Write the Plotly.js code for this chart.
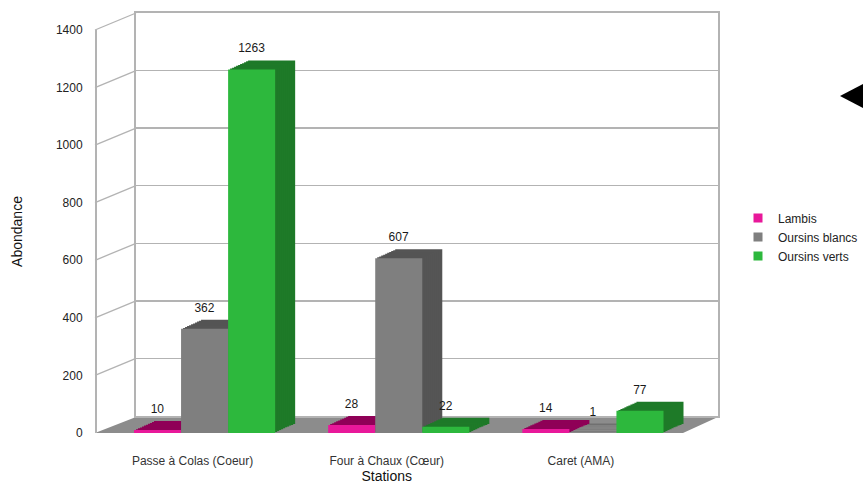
<!DOCTYPE html>
<html>
<head>
<meta charset="utf-8">
<script src="https://cdn.plot.ly/plotly-3.0.1.min.js"></script>
<style>html,body{margin:0;padding:0;background:#fff;}#chart{width:866px;height:484px;}</style>
</head>
<body>
<div id="chart"></div>
<script>
// ---- data ----
const stations = ["Passe à Colas (Coeur)", "Four à Chaux (Cœur)", "Caret (AMA)"];
const seriesNames = ["Lambis", "Oursins blancs", "Oursins verts"];
const lambis = [10, 28, 14];
const oursinsBlancs = [362, 607, 1];
const oursinsVerts = [1263, 22, 77];
const yTicks = [0, 200, 400, 600, 800, 1000, 1200, 1400];

// ---- styling ----
const W = 866, H = 484;
const frontColors = ["#e8189a", "#7f7f7f", "#2db83d"];
const sideColors = ["#8f0057", "#555555", "#1e7a28"];
const FONT = "Liberation Sans, Arial, sans-serif";
const px = x => x / W;
const py = y => 1 - y / H;

// front plane (pixel box)
const front = {x0: 107.5, x1: 690, y0: 30, y1: 433};
const depth = {dx: 20, dy: 9, steps: 10};     // bar depth offset
const wall = {x0: 136, x1: 718, y0: 13, y1: 416};
const yMax = 1400;

const values = [lambis, oursinsBlancs, oursinsVerts];
const traces = [];
const hidden = {visible: false};
const layout = {};

// back wall (grid) subplot
traces.push({type: "scatter", x: [0], y: [0], mode: "none", xaxis: "x", yaxis: "y",
  showlegend: false, hoverinfo: "skip"});

// side / top faces: stacked depth layers (far to near)
let axn = 2;
for (let k = depth.steps; k >= 1; k--) {
  const ox = depth.dx * k / depth.steps, oy = depth.dy * k / depth.steps;
  const id = axn++;
  values.forEach((v, i) => traces.push({
    type: "bar", x: stations, y: v, xaxis: "x" + id, yaxis: "y" + id,
    marker: {color: sideColors[i], line: {width: 0}}, showlegend: false, hoverinfo: "skip"
  }));
  layout["xaxis" + id] = Object.assign({domain: [px(front.x0 + ox), px(front.x1 + ox)], anchor: "y" + id,
    type: "category", range: [-0.5, 2.5]}, hidden);
  layout["yaxis" + id] = Object.assign({domain: [py(front.y1 - oy), py(front.y0 - oy)], anchor: "x" + id,
    range: [0, yMax]}, hidden);
}
const fId = axn++, tId = axn++, cId = axn++;

// front faces
values.forEach((v, i) => traces.push({
  type: "bar", name: seriesNames[i], x: stations, y: v, xaxis: "x" + fId, yaxis: "y" + fId,
  marker: {color: frontColors[i], line: {width: 0}}, showlegend: false
}));
// value labels
values.forEach((v, i) => traces.push({
  type: "bar", x: stations, y: v, xaxis: "x" + tId, yaxis: "y" + tId,
  marker: {color: "rgba(0,0,0,0)"}, text: v.map(String), textposition: "outside",
  textfont: {family: FONT, size: 12, color: "#1a1a1a"}, cliponaxis: false,
  constraintext: "none", showlegend: false, hoverinfo: "skip"
}));
// category labels axis + legend entries
seriesNames.forEach((n, i) => traces.push({
  type: "scatter", name: n, x: [stations[0]], y: [null], mode: "markers",
  marker: {symbol: "square", size: 9, color: frontColors[i]},
  xaxis: "x" + cId, yaxis: "y" + cId, hoverinfo: "skip"
}));
traces.push({type: "scatter", x: stations, y: [0, 0, 0], mode: "none", xaxis: "x" + cId, yaxis: "y" + cId,
  showlegend: false, hoverinfo: "skip"});

const shapes = [];
// floor
shapes.push({type: "path", xref: "paper", yref: "paper", layer: "below",
  path: `M ${px(95)} ${py(433)} L ${px(683)} ${py(433)} L ${px(718)} ${py(417)} L ${px(136)} ${py(417)} Z`,
  fillcolor: "#8c8c8c", line: {width: 0}});
// perspective tick connectors
yTicks.forEach(v => {
  if (v === 0) return;
  const yf = front.y1 - (front.y1 - front.y0) * v / yMax;
  const yb = wall.y1 - (wall.y1 - wall.y0) * v / yMax;
  shapes.push({type: "line", xref: "paper", yref: "paper", layer: "below",
    x0: px(95), y0: py(yf), x1: px(wall.x0), y1: py(yb),
    line: {color: "#b3b3b3", width: 1.3}});
});
// marker triangle at right
shapes.push({type: "path", xref: "paper", yref: "paper",
  path: `M ${px(863)} ${py(84)} L ${px(840)} ${py(96)} L ${px(863)} ${py(108)} Z`,
  fillcolor: "#000", line: {width: 0}});

Object.assign(layout, {
  width: W, height: H,
  margin: {l: 0, r: 0, t: 0, b: 0},
  paper_bgcolor: "#ffffff",
  plot_bgcolor: "rgba(0,0,0,0)",
  font: {family: FONT, size: 12, color: "#222"},
  barmode: "group", bargap: 0.273, bargroupgap: 0,
  showlegend: true,
  legend: {x: px(738), y: py(237), xanchor: "left", yanchor: "middle",
    font: {family: FONT, size: 12, color: "#222"}, bgcolor: "rgba(0,0,0,0)",
    itemwidth: 30, tracegroupgap: 0},
  // back wall
  xaxis: {domain: [px(wall.x0), px(wall.x1)], anchor: "y", range: [0, 1],
    showline: true, mirror: true, linecolor: "#b3b3b3", linewidth: 2,
    showgrid: false, zeroline: false, showticklabels: false, ticks: "", fixedrange: true},
  yaxis: {domain: [py(wall.y1), py(wall.y0)], anchor: "x", range: [0, yMax],
    tickvals: yTicks, showgrid: true, gridcolor: "#b3b3b3", gridwidth: 1.3,
    showline: true, mirror: true, linecolor: "#b3b3b3", linewidth: 2,
    zeroline: false, showticklabels: false, ticks: "", fixedrange: true},
  shapes: shapes
});
// front faces
layout["xaxis" + fId] = {domain: [px(front.x0), px(front.x1)], anchor: "y" + fId, type: "category", range: [-0.5, 2.5],
  showline: false, showgrid: false, zeroline: false, showticklabels: false, ticks: ""};
layout["yaxis" + fId] = {domain: [py(front.y1), py(front.y0)], anchor: "free", position: px(95), range: [0, yMax],
  tickvals: yTicks, showgrid: false, zeroline: false, showline: true, linecolor: "#b3b3b3", linewidth: 1.5,
  ticks: "outside", ticklen: 10, tickcolor: "rgba(0,0,0,0)",
  tickfont: {family: FONT, size: 12, color: "#222"},
  title: {text: "Abondance", font: {family: FONT, size: 14, color: "#111"}, standoff: 28}};
// value labels
layout["xaxis" + tId] = Object.assign({domain: [px(front.x0), px(front.x1)], anchor: "y" + tId,
  type: "category", range: [-0.5, 2.5]}, hidden);
layout["yaxis" + tId] = Object.assign({domain: [py(front.y1 - 11), py(front.y0 - 11)], anchor: "x" + tId,
  range: [0, yMax]}, hidden);
// category labels
layout["xaxis" + cId] = {domain: [px(front.x0 - 12), px(front.x1 - 12)], anchor: "y" + cId, type: "category", range: [-0.5, 2.5],
  showline: false, showgrid: false, zeroline: false, ticks: "outside", ticklen: 17,
  tickcolor: "rgba(0,0,0,0)", tickfont: {family: FONT, size: 12, color: "#333"},
  title: {text: "Stations", font: {family: FONT, size: 14, color: "#111"}, standoff: 3}};
layout["yaxis" + cId] = Object.assign({domain: [py(front.y1), py(front.y0)], anchor: "x" + cId, range: [0, yMax]}, hidden);

Plotly.newPlot("chart", traces, layout, {displayModeBar: false, staticPlot: true});
</script>
</body>
</html>
